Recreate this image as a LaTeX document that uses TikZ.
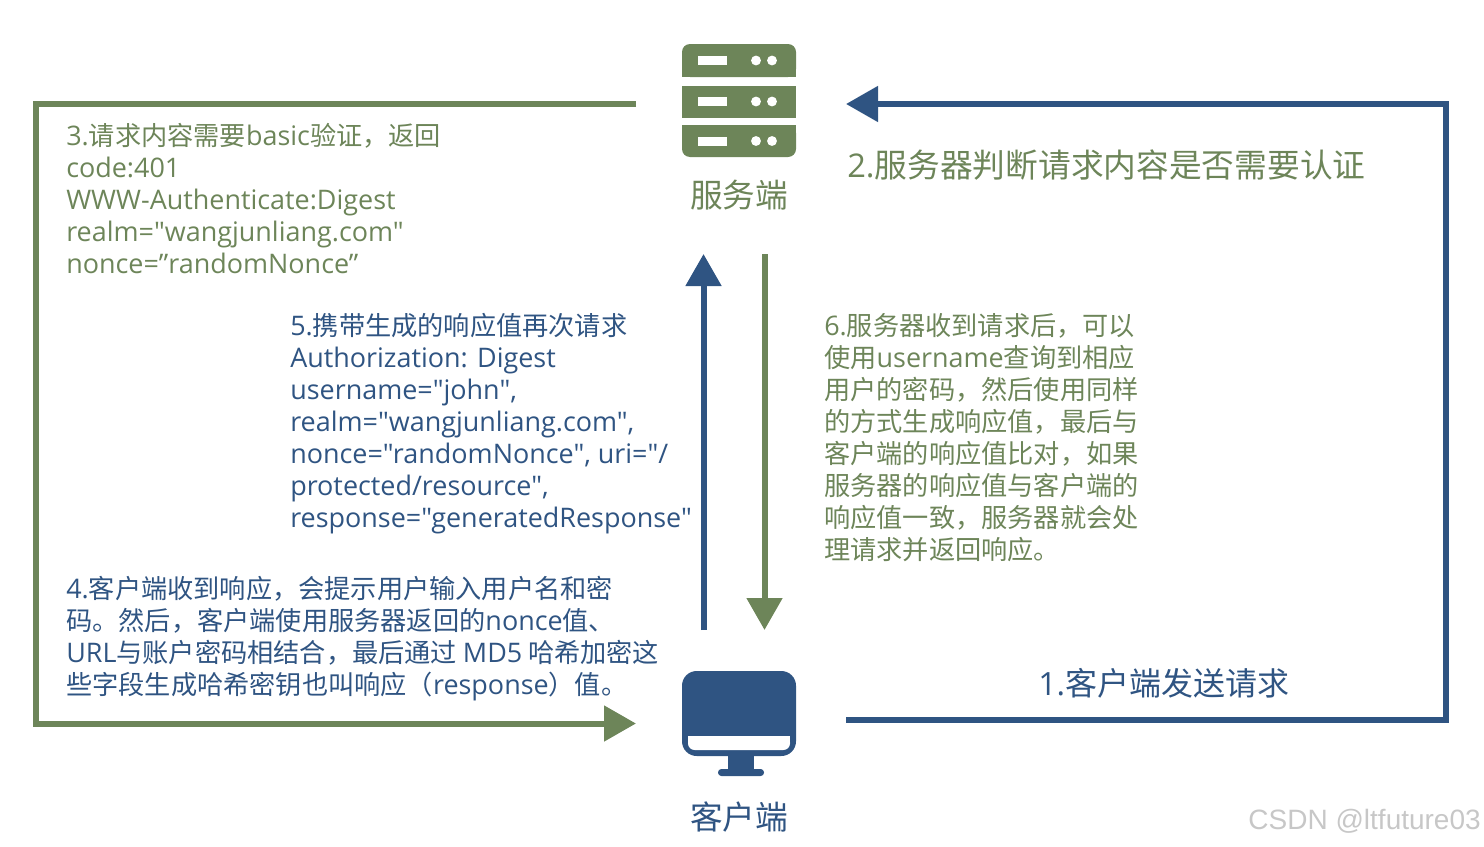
\documentclass[tikz,border=0pt]{standalone}
\usepackage{fontspec}
\usetikzlibrary{arrows.meta}
\setmainfont{Noto Sans CJK SC}
\newfontfamily\wmfont{Liberation Sans}
\newfontfamily\latf{Open Sans}
\newcommand{\LL}[1]{{\latf\fontsize{20.2}{24}\selectfont #1}}
\newcommand{\LB}[1]{{\latf\fontsize{24.5}{28}\selectfont #1}}
\definecolor{gr}{HTML}{6D8559}
\definecolor{bl}{HTML}{2F5482}
\tikzset{
 x=0.75pt,y=-0.75pt,
 conn/.style={line width=4.5pt,line join=miter},
 tipped/.style={conn,-{Triangle[length=24pt,width=26pt]}},
 para/.style={anchor=north west,inner sep=0pt,align=left,font=\fontsize{19.65}{24}\selectfont},
 lab/.style={inner sep=0pt,font=\fontsize{24.5}{28}\selectfont},
 big/.style={anchor=west,inner sep=0pt,font=\fontsize{24.55}{28}\selectfont},
}
\begin{document}
\begin{tikzpicture}
\useasboundingbox (0,0) rectangle (1484,846);
% server icon
\node[minimum width=85pt,minimum height=85pt,inner sep=0pt] (server) at (739,100) {};
\fill[gr,rounded corners=6pt] (682,77) -- (682,44) -- (796,44) -- (796,77) -- cycle;
\fill[gr] (682,86) rectangle (796,118);
\fill[gr,rounded corners=6pt] (682,125) -- (796,125) -- (796,157) -- (682,157) -- cycle;
\fill[gr] (682,125) rectangle (796,140);
\fill[gr] (682,60) rectangle (796,77);
\foreach \a/\b in {56/60.5,97/101.5,137/141}{
 \fill[white] (698,\a) rectangle (727,\a+9);
 \fill[white] (756,\b) circle[radius=3.7pt];
 \fill[white] (772,\b) circle[radius=3.7pt];
}
\node[lab,text=gr] (serverlab) at (739,195) {服务端};
% client icon
\node[minimum width=85pt,minimum height=78pt,inner sep=0pt] (client) at (739,723) {};
\fill[bl,rounded corners=11pt] (682,671) rectangle (796,756);
\fill[white,rounded corners=5pt] (688,750) -- (790,750) -- (790,736) -- (688,736) -- cycle;
\fill[white] (688,736) rectangle (790,743);
\fill[bl] (728,755) rectangle (754,771);
\fill[bl,rounded corners=2.5pt] (718,769) rectangle (764,776);
\node[lab,text=bl] (clientlab) at (739,817) {客户端};
% free ends
\coordinate (g1) at (636,103.5);
\coordinate (g2) at (36,103.5);
\coordinate (g3) at (36,723.5);
\coordinate (g4) at (636,723.5);
\coordinate (b1) at (846,720);
\coordinate (b2) at (1446,720);
\coordinate (b3) at (1446,104);
\coordinate (b4) at (846,104);
\coordinate (u1) at (703.5,630);
\coordinate (u2) at (703.5,254);
\coordinate (d1) at (764.5,254);
\coordinate (d2) at (764.5,630);
\draw[tipped,gr] (g1) -- (g2) -- (g3) -- (g4);
\draw[tipped,bl] (b1) -- (b2) -- (b3) -- (b4);
\draw[tipped,bl] (u1) -- (u2);
\draw[tipped,gr] (d1) -- (d2);
% texts
\node[big,text=gr] (t2) at (847,165) {\LB{2.}服务器判断请求内容是否需要认证};
\node[big,text=bl,font=\fontsize{24}{28}\selectfont] (t1) at (1038,683) {{\latf 1.}客户端发送请求};
\node[para,text=gr] (t3) at (66,123) {\LL{3.}请求内容需要\LL{basic}验证，返回\\\LL{code:401}\\\LL{WWW-Authenticate:Digest}\\\LL{realm="wangjunliang.com"}\\\LL{nonce=”randomNonce”}};
\node[para,text=bl] (t5) at (290,313) {\LL{5.}携带生成的响应值再次请求\\\LL{Authorization: Digest}\\\LL{username="john",}\\\LL{realm="wangjunliang.com",}\\\LL{nonce="randomNonce", uri="/}\\\LL{protected/resource",}\\\LL{response="generatedResponse"}};
\node[para,text=bl] (t4) at (66,576) {\LL{4.}客户端收到响应，会提示用户输入用户名和密\\码。然后，客户端使用服务器返回的\LL{nonce}值、\\\LL{URL}与账户密码相结合，最后通过 \LL{MD5} 哈希加密这\\些字段生成哈希密钥也叫响应（\LL{response}）值。};
\node[para,text=gr] (t6) at (824,313) {\LL{6.}服务器收到请求后，可以\\使用\LL{username}查询到相应\\用户的密码，然后使用同样\\的方式生成响应值，最后与\\客户端的响应值比对，如果\\服务器的响应值与客户端的\\响应值一致，服务器就会处\\理请求并返回响应。};
\node[anchor=east,inner sep=0pt,text=black!22,font=\wmfont\fontsize{21}{24}\selectfont] (wm) at (1481,821) {CSDN @ltfuture03};
\end{tikzpicture}
\end{document}
